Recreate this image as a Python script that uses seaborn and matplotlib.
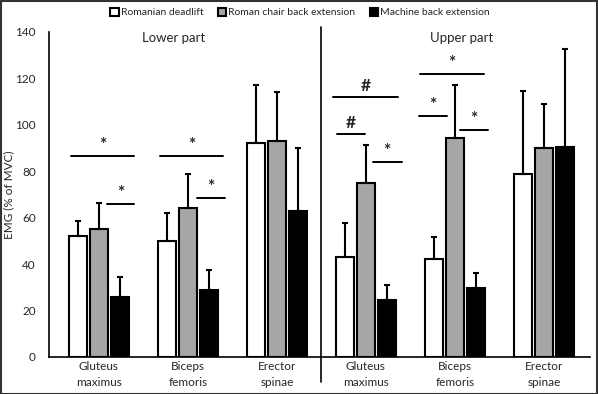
import pandas as pd
import matplotlib.pyplot as plt
import matplotlib.patches as mpatches
import seaborn as sns

# muscles, lower part first then upper part
muscles = ["Gluteus\nmaximus", "Biceps\nfemoris", "Erector\nspinae",
           "Gluteus\nmaximus", "Biceps\nfemoris", "Erector\nspinae"]
exercises = ["Romanian deadlift", "Roman chair back extension", "Machine back extension"]

rdl_mean = [52, 50, 92, 43, 42, 79]
rcbe_mean = [55, 64, 93, 75, 94.5, 90]
mbe_mean = [26, 29, 63, 24.5, 29.5, 90.5]

rdl_sd = [6.4, 12.1, 25, 14.6, 9.7, 35.7]
rcbe_sd = [11.2, 14.9, 21, 16.2, 22.5, 19.1]
mbe_sd = [8.6, 8.6, 26.8, 6.3, 6.6, 42]

# significance lines: group index, start/end offset from group centre, height, symbol
sig_group = [0, 0, 1, 1, 3, 3, 3, 4, 4, 4]
sig_start = [-0.31, 0.09, -0.31, 0.10, -0.37, -0.33, 0.08, -0.39, -0.40, 0.06]
sig_end = [0.40, 0.40, 0.40, 0.42, 0.36, -0.01, 0.40, 0.33, -0.09, 0.37]
sig_y = [86.7, 65.8, 86.7, 68.4, 112, 96, 84, 122, 103.8, 97.8]
sig_sym = ["*", "*", "*", "*", "#", "#", "*", "*", "*", "*"]

colors = ["white", "#a6a6a6", "black"]

rows = []
for ex, means in zip(exercises, [rdl_mean, rcbe_mean, mbe_mean]):
    for i, m in enumerate(means):
        rows.append({"group": i, "exercise": ex, "emg": m})
df = pd.DataFrame(rows)

sns.set_theme(style="white")
plt.rcParams["font.family"] = ["Lato", "DejaVu Sans"]

fig = plt.figure(figsize=(5.98, 3.94), dpi=100)
ax = fig.add_axes([0.082, 0.094, 0.905, 0.825])

sns.barplot(data=df, x="group", y="emg", hue="exercise", hue_order=exercises,
            palette=colors, edgecolor="black", linewidth=1.5, width=0.7, gap=0.12,
            errorbar=None, ax=ax)

# one sided error bars on top of each bar
for cont, means, sds in zip(ax.containers, [rdl_mean, rcbe_mean, mbe_mean],
                            [rdl_sd, rcbe_sd, mbe_sd]):
    xs = [b.get_x() + b.get_width() / 2 for b in cont]
    ax.errorbar(xs, means, yerr=[[0] * len(sds), sds], fmt="none",
                ecolor="black", elinewidth=1.5, capsize=2, capthick=1.5, zorder=1)

for g, x0, x1, y, s in zip(sig_group, sig_start, sig_end, sig_y, sig_sym):
    ax.plot([g + x0, g + x1], [y, y], color="black", lw=1.4)
    ax.text(g + (x0 + x1) / 2, y + 4.8, s, ha="center", va="center",
            fontsize=12.5, fontweight="bold")

# divider between lower and upper part
ax.plot([2.5, 2.5], [-10.8, 142.2], color="black", lw=1.2, clip_on=False)
ax.text(0.84, 137.4, "Lower part", ha="center", va="center", fontsize=9.5)
ax.text(4.08, 137.4, "Upper part", ha="center", va="center", fontsize=9.5)

ax.set_ylim(0, 140)
ax.set_xlim(-0.56, 5.52)
ax.set_yticks(range(0, 141, 20))
ax.set_xticks(range(6))
ax.set_xticklabels(muscles, fontsize=8.5, linespacing=1.5)
ax.tick_params(axis="y", labelsize=8.5, length=0, pad=9.5)
ax.tick_params(axis="x", length=0, pad=3)
ax.set_xlabel("")
ax.set_ylabel("EMG (% of MVC)", fontsize=8.5)
ax.yaxis.set_label_coords(-0.064, 0.5)
sns.despine(ax=ax)
for sp in ["left", "bottom"]:
    ax.spines[sp].set_color("black")
    ax.spines[sp].set_linewidth(1.2)

ax.legend(loc="center", bbox_to_anchor=(0.502, 0.968), bbox_transform=fig.transFigure,
          ncol=3, frameon=False, fontsize=7.5, handlelength=0.8, handleheight=0.8,
          handletextpad=0.2, columnspacing=1.4, borderaxespad=0)

fig.patches.append(mpatches.Rectangle((0.001, 0.001), 0.997, 0.997, transform=fig.transFigure,
                                      fill=False, edgecolor="#333333", lw=1.5))

fig.savefig("out.png", dpi=100)
